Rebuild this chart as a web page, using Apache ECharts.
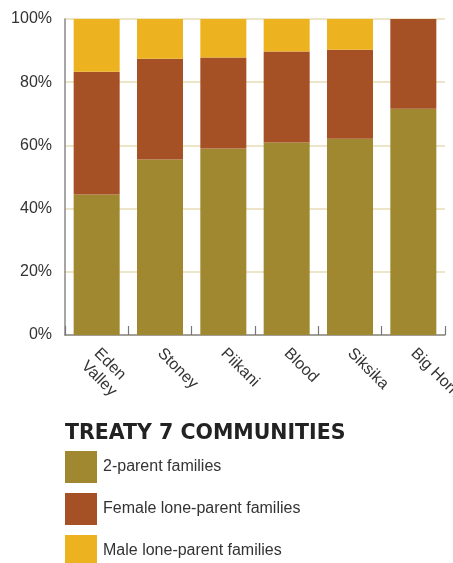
<!DOCTYPE html>
<html>
<head>
<meta charset="utf-8">
<script src="https://cdn.jsdelivr.net/npm/echarts@6/dist/echarts.min.js"></script>
<style>
  html, body { margin: 0; padding: 0; background: #fff; overflow: hidden; }
  #chart { width: 453px; height: 600px; }
</style>
</head>
<body>
<div id="chart"></div>
<script>
// Family structure shares (%) by Treaty 7 community
const communities = ['Eden\nValley', 'Stoney', 'Piikani', 'Blood', 'Siksika', 'Big Horn'];
const twoParent = [44.5, 55.5, 59.0, 60.9, 62.1, 71.6];
const femaleLone = [38.8, 31.9, 28.8, 28.8, 28.2, 28.4];
const maleLone = [16.7, 12.6, 12.2, 10.3, 9.7, 0];
const yTicks = [0, 20, 40, 60, 80, 100];

const colors = { two: '#A08830', female: '#A65025', male: '#ECB220' };
const font = 'Liberation Sans, Arial, Helvetica, sans-serif';

// The canvas runs a little past the bottom of the window so the last legend row is cut off.
const chart = echarts.init(document.getElementById('chart'), null, { renderer: 'canvas', width: 453, height: 600 });

function bar(name, data, color) {
  return {
    name: name,
    type: 'bar',
    stack: 'total',
    data: data,
    barWidth: 46,
    itemStyle: { color: color },
    emphasis: { disabled: true }
  };
}

// Two-line names get an empty line above them so the first line sits on the tick
// like the single-line names do.
function categoryLabel(v) {
  return v.indexOf('\n') >= 0 ? '\n' + v : v;
}

chart.setOption({
  animation: false,
  title: {
    text: 'TREATY 7 COMMUNITIES',
    left: 65,
    top: 423,
    padding: 0,
    textStyle: { fontFamily: 'DejaVu Sans, sans-serif', fontSize: 20.5, fontWeight: 'bold', color: '#222' }
  },
  legend: {
    orient: 'vertical',
    left: 65,
    top: 451,
    padding: 0,
    itemWidth: 32,
    itemHeight: 32,
    itemGap: 10,
    icon: 'rect',
    selectedMode: false,
    textStyle: { fontFamily: font, fontSize: 16, color: '#333', padding: [2, 0, 0, 1] },
    data: ['2-parent families', 'Female lone-parent families', 'Male lone-parent families']
  },
  grid: { left: 65, right: 8, top: 19, bottom: 265, containLabel: false, outerBoundsMode: 'none' },
  xAxis: {
    type: 'category',
    data: communities,
    axisLine: { lineStyle: { color: '#888', width: 1.5 } },
    axisTick: { show: true, inside: true, length: 9, lineStyle: { color: '#777', width: 1.2 } },
    axisLabel: {
      rotate: -45,
      margin: 16,
      interval: 0,
      verticalAlign: 'middle',
      fontFamily: font,
      fontSize: 16,
      color: '#333',
      lineHeight: 18,
      formatter: categoryLabel
    }
  },
  yAxis: {
    type: 'value',
    min: yTicks[0],
    max: yTicks[yTicks.length - 1],
    interval: 20,
    axisLine: { show: true, lineStyle: { color: '#888', width: 1.5 } },
    axisTick: { show: false },
    axisLabel: {
      margin: 13,
      fontFamily: font,
      fontSize: 16,
      color: '#333',
      formatter: v => v + '%'
    },
    splitLine: { lineStyle: { color: '#E6DCB4', width: 1.5 } }
  },
  series: [
    bar('2-parent families', twoParent, colors.two),
    bar('Female lone-parent families', femaleLone, colors.female),
    bar('Male lone-parent families', maleLone, colors.male)
  ]
});
</script>
</body>
</html>
